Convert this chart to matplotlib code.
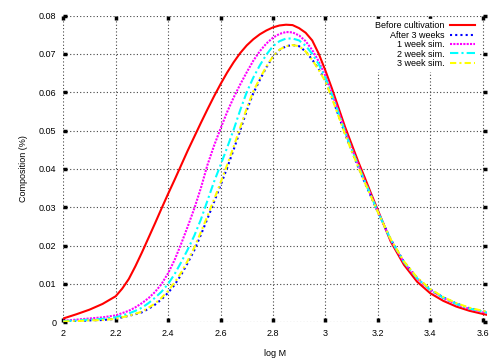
# Molecular weight distribution, before/after cultivation

import matplotlib
matplotlib.use("Agg")
import matplotlib.pyplot as plt

plt.rcParams['font.family'] = ['Liberation Sans', 'DejaVu Sans']
plt.rcParams['font.size'] = 6.5

# log M values
logm = [2.0, 2.05, 2.1, 2.15, 2.2,
        2.225, 2.25, 2.275, 2.3, 2.325, 2.35, 2.375, 2.4, 2.425, 2.45, 2.475,
        2.5, 2.525, 2.55, 2.575, 2.6, 2.625, 2.65, 2.675, 2.7, 2.725, 2.75,
        2.775, 2.8, 2.825, 2.85, 2.875, 2.9, 2.925, 2.95, 2.975, 3.0, 3.025,
        3.05, 3.075, 3.1, 3.125, 3.15, 3.175, 3.2,
        3.25, 3.3, 3.35, 3.4, 3.45, 3.5, 3.55, 3.6, 3.62]

before = [0.0010, 0.0021, 0.0033, 0.0048, 0.0068,
          0.0088, 0.0113, 0.0146, 0.0182, 0.0220, 0.0258, 0.0297, 0.0335,
          0.0372, 0.0410, 0.0448, 0.0484, 0.0520, 0.0555, 0.0589, 0.0621,
          0.0651, 0.0678, 0.0702, 0.0722, 0.0738, 0.0751, 0.0761, 0.0769,
          0.0774, 0.0776, 0.0775, 0.0767, 0.0755, 0.0735, 0.0700, 0.0657,
          0.0610, 0.0560, 0.0510, 0.0465, 0.0420, 0.0378, 0.0335, 0.0293,
          0.0210, 0.0150, 0.0106, 0.0076, 0.0056, 0.0041, 0.0030, 0.0022, 0.0019]

after3w = [0.0002, 0.0003, 0.0005, 0.0006, 0.0009,
           0.0013, 0.0017, 0.0021, 0.0026, 0.0035, 0.0046, 0.0060, 0.0077,
           0.0098, 0.0124, 0.0155, 0.0188, 0.0228, 0.0270, 0.0313, 0.0357,
           0.0402, 0.0450, 0.0500, 0.0552, 0.0597, 0.0632, 0.0665, 0.0692,
           0.0710, 0.0720, 0.0723, 0.0720, 0.0706, 0.0685, 0.0660, 0.0630,
           0.0587, 0.0540, 0.0492, 0.0448, 0.0406, 0.0365, 0.0327, 0.0288,
           0.0216, 0.0158, 0.0116, 0.0086, 0.0065, 0.0049, 0.0037, 0.0029, 0.0026]

sim1w = [0.0004, 0.0007, 0.0010, 0.0013, 0.0018,
         0.0024, 0.0030, 0.0039, 0.0050, 0.0063, 0.0079, 0.0100, 0.0128,
         0.0163, 0.0205, 0.0250, 0.0297, 0.0350, 0.0410, 0.0460, 0.0505,
         0.0548, 0.0586, 0.0620, 0.0652, 0.0682, 0.0707, 0.0727, 0.0742,
         0.0752, 0.0757, 0.0756, 0.0748, 0.0733, 0.0710, 0.0680, 0.0643,
         0.0598, 0.0550, 0.0500, 0.0455, 0.0412, 0.0370, 0.0330, 0.0290,
         0.0214, 0.0156, 0.0114, 0.0084, 0.0063, 0.0047, 0.0035, 0.0027, 0.0024]

sim2w = [0.0003, 0.0005, 0.0007, 0.0009, 0.0013,
         0.0018, 0.0023, 0.0030, 0.0038, 0.0050, 0.0064, 0.0080, 0.0100,
         0.0126, 0.0157, 0.0190, 0.0226, 0.0268, 0.0317, 0.0366, 0.0410,
         0.0455, 0.0502, 0.0553, 0.0600, 0.0638, 0.0670, 0.0698, 0.0720,
         0.0733, 0.0740, 0.0740, 0.0735, 0.0721, 0.0700, 0.0673, 0.0638,
         0.0594, 0.0546, 0.0497, 0.0452, 0.0410, 0.0368, 0.0329, 0.0289,
         0.0215, 0.0157, 0.0115, 0.0085, 0.0064, 0.0048, 0.0036, 0.0028, 0.0025]

sim3w = [0.0002, 0.0003, 0.0005, 0.0006, 0.0009,
         0.0013, 0.0017, 0.0022, 0.0028, 0.0038, 0.0049, 0.0064, 0.0082,
         0.0104, 0.0130, 0.0161, 0.0195, 0.0235, 0.0277, 0.0320, 0.0364,
         0.0410, 0.0458, 0.0508, 0.0558, 0.0602, 0.0636, 0.0667, 0.0693,
         0.0711, 0.0720, 0.0723, 0.0720, 0.0706, 0.0684, 0.0658, 0.0628,
         0.0585, 0.0538, 0.0491, 0.0447, 0.0406, 0.0365, 0.0327, 0.0288,
         0.0216, 0.0159, 0.0117, 0.0087, 0.0066, 0.0050, 0.0038, 0.0030, 0.0027]

xticks = [2.0, 2.2, 2.4, 2.6, 2.8, 3.0, 3.2, 3.4, 3.6]
xticklabels = ["2", "2.2", "2.4", "2.6", "2.8", "3", "3.2", "3.4", "3.6"]
yticks = [0, 0.01, 0.02, 0.03, 0.04, 0.05, 0.06, 0.07, 0.08]
yticklabels = ["0", "0.01", "0.02", "0.03", "0.04", "0.05", "0.06", "0.07", "0.08"]

fig = plt.figure(figsize=(5.0, 3.59), dpi=100)
ax = fig.add_axes([0.1266, 0.1022, 0.8474, 0.8546])

ax.plot(logm, before, color='#ff0000', lw=1.5, label='Before cultivation')
ax.plot(logm, after3w, color='#0000ff', lw=1.5, linestyle=(0, (1, 1.5)),
        label='After 3 weeks')
ax.plot(logm, sim1w, color='#ff00ff', lw=1.5, linestyle=(0, (1, 0.6)),
        label='1 week sim.')
ax.plot(logm, sim2w, color='#00ffff', lw=1.5, linestyle=(0, (4, 1.5, 1, 1.5)),
        label='2 week sim.')
ax.plot(logm, sim3w, color='#ffff00', lw=1.5, linestyle=(0, (3, 1.5, 1, 1.5)),
        label='3 week sim.')

ax.set_xlim(2.0, 3.617)
ax.set_ylim(0, 0.08)
ax.set_xticks(xticks)
ax.set_xticklabels(xticklabels)
ax.set_yticks(yticks)
ax.set_yticklabels(yticklabels)

ax.tick_params(direction='in', length=3, width=2.5, color='black',
               top=True, right=True, pad=5)
for s in ax.spines.values():
    s.set_visible(False)

ax.grid(True, color='#444444', linestyle=(0, (1, 2)), lw=0.8)
ax.set_axisbelow(True)

ax.set_xlabel("log M", labelpad=8)
ax.set_ylabel("Composition (%)", labelpad=8)

leg = ax.legend(loc='upper right', bbox_to_anchor=(0.978, 0.99),
                borderaxespad=0, markerfirst=False, frameon=True,
                fancybox=False, framealpha=1, edgecolor='white',
                handlelength=2.8, handletextpad=0.6, labelspacing=0.05,
                borderpad=0.3)
for t in leg.get_texts():
    t.set_ha('right')
leg._legend_box.align = 'right'

fig.savefig("out.png", dpi=100)
